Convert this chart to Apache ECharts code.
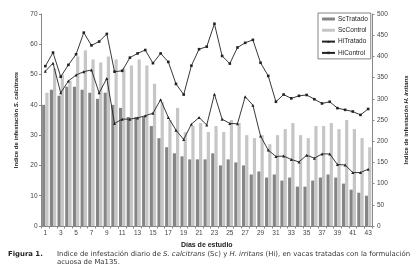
<!DOCTYPE html>
<html><head><meta charset="utf-8">
<script src="https://cdn.jsdelivr.net/npm/echarts@6/dist/echarts.min.js"></script>
<style>html,body{margin:0;padding:0;background:#fff}#c{width:417px;height:267px}</style>
</head><body><div id="c"></div>
<script>
const dias = Array.from({length:43},(_, i)=>String(i+1));
const scTratado = [40,45,43,46,46,45,44,42,44,40,39,36,36,36,33,29,26,24,23,22,22,22,24,20,22,21,20,17,18,16,17,15,16,13,13,15,16,17,16,14,12,11,10];
const scControl = [44,52,50,48,56,58,55,54,56,55,52,53,55,53,47,41,35,39,31,33,34,31,33,31,35,34,30,29,30,27,30,32,34,30,29,33,33,34,32,35,32,29,26];
const hiControl = [377,409,352,380,405,456,426,435,453,364,366,397,407,415,384,407,387,335,310,378,417,423,477,401,383,421,432,439,385,354,293,310,301,307,309,299,289,293,278,274,270,262,276];
const hiTratado = [365,384,314,342,356,364,368,314,348,242,252,252,255,260,266,298,256,226,204,240,256,238,311,252,242,241,305,285,212,179,164,165,157,151,167,160,170,170,145,144,126,126,134];
const leftTicks = [0,70,10];
const rightTicks = [0,500,50];

const chart = echarts.init(document.getElementById('c'), null, {renderer:'canvas'});
const F = 'Liberation Sans, Arial, sans-serif';
const CF = '"DejaVu Sans", Verdana, sans-serif';
const axisLine = {show:true, lineStyle:{color:'#888', width:1}};
const lbl = {color:'#444', fontSize:6.5, fontFamily:F};
const nameRich = {n:{fontSize:6, fontWeight:'bold', fontFamily:F, color:'#222'}, i:{fontSize:6, fontWeight:'bold', fontStyle:'italic', fontFamily:F, color:'#222'}};
chart.setOption({
  animation:false,
  grid:{left:41.5, right:44.5, top:14, bottom:41},
  legend:{
    orient:'vertical', left:318, top:13,
    itemWidth:13, itemHeight:3, itemGap:4.3,
    padding:[2.5,3,2.5,3],
    borderColor:'#666', borderWidth:0.8,
    textStyle:{fontSize:6.5, fontFamily:F, color:'#222', padding:[0,0,0,-2]},
    data:['ScTratado','ScControl','HiTratado','HiControl']
  },
  xAxis:{
    type:'category', data:dias, boundaryGap:true,
    axisLine:axisLine, axisTick:{show:true, interval:0, length:2.5, lineStyle:{color:'#888'}},
    axisLabel:Object.assign({interval:1, margin:4}, lbl),
    name:'Días de estudio', nameLocation:'middle', nameGap:15,
    nameTextStyle:{fontSize:7, fontWeight:'bold', fontFamily:F, color:'#222'}
  },
  yAxis:[{
    type:'value', min:leftTicks[0], max:leftTicks[1], interval:leftTicks[2],
    axisLine:axisLine, axisTick:{show:true, length:2.5, lineStyle:{color:'#888'}},
    splitLine:{show:false}, axisLabel:Object.assign({margin:4}, lbl),
    name:'{n|Indice de infestación }{i|S. calcitrans}', nameLocation:'middle', nameRotate:90, nameGap:16,
    nameTextStyle:{rich:nameRich}
  },{
    type:'value', min:rightTicks[0], max:rightTicks[1], interval:rightTicks[2], position:'right',
    axisLine:axisLine, axisTick:{show:true, length:2.5, lineStyle:{color:'#888'}},
    splitLine:{show:false}, axisLabel:Object.assign({margin:5}, lbl),
    name:'{n|Indice de infestación }{i|H. irritans}', nameLocation:'middle', nameRotate:90, nameGap:31,
    nameTextStyle:{rich:nameRich}
  }],
  series:[
    {name:'ScTratado', type:'bar', data:scTratado, barWidth:3.2, barGap:'0%', itemStyle:{color:'#858585'}},
    {name:'ScControl', type:'bar', data:scControl, barWidth:3.2, barGap:'0%', itemStyle:{color:'#c6c6c6'}},
    {name:'HiTratado', type:'line', yAxisIndex:1, data:hiTratado, symbol:'triangle', symbolSize:3, lineStyle:{color:'#222', width:0.9}, itemStyle:{color:'#222'}},
    {name:'HiControl', type:'line', yAxisIndex:1, data:hiControl, symbol:'rect', symbolSize:2.6, lineStyle:{color:'#222', width:0.9}, itemStyle:{color:'#222'}}
  ],
  graphic:[
    {type:'text', left:8, top:251, style:{text:'Figura 1.', font:'bold 6.9px ' + CF, fill:'#222'}},
    {type:'text', left:57, top:251, style:{
      text:'{n|Indice de infestación diario de }{i|S. calcitrans}{n| (Sc) y }{i|H. irritans}{n| (Hi), en vacas tratadas con la formulación}',
      rich:{n:{font:'6.9px ' + CF, fill:'#333'}, i:{font:'italic 6.9px ' + CF, fill:'#333'}}}},
    {type:'text', left:57, top:259, style:{text:'acuosa de Ma135.', font:'6.9px ' + CF, fill:'#333'}}
  ]
});
</script></body></html>
